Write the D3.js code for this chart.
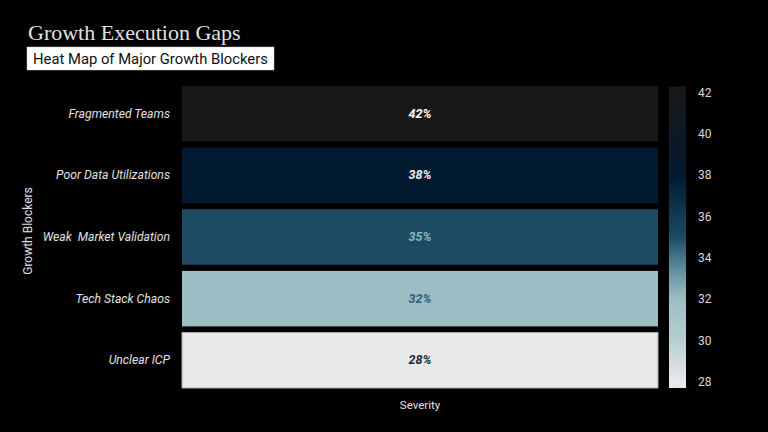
<!DOCTYPE html>
<html><head><meta charset="utf-8">
<script src="https://cdn.jsdelivr.net/npm/d3@7"></script>
<style>html,body{margin:0;padding:0;background:#000;}svg{display:block;}</style>
</head><body>
<svg id="chart" width="768" height="432"></svg>
<script>
const categories = ["Fragmented Teams", "Poor Data Utilizations", "Weak  Market Validation", "Tech Stack Chaos", "Unclear ICP"];
const severity = [42, 38, 35, 32, 28];
const colorbarTicks = [28, 30, 32, 34, 36, 38, 40, 42];
const colorStops = [28, 30, 32, 33.5, 35, 38, 42];
const colorValues = ["#e8e9ea", "#b7ced1", "#9dbec4", "#5d8b99", "#1c4b62", "#021a2f", "#181818"];
const labelColors = ["#ffffff", "#e8eef2", "#8db3bf", "#2f6179", "#1d2b3d"];

const svg = d3.select("#chart");
svg.append("rect").attr("width", 768).attr("height", 432).attr("fill", "#000");

// Title
svg.append("text").attr("x", 28).attr("y", 40)
  .attr("font-family", "'Liberation Serif', 'DejaVu Serif', serif")
  .attr("font-size", 22).attr("fill", "#e0e0e0").text("Growth Execution Gaps");
svg.append("rect").attr("x", 27).attr("y", 47).attr("width", 247).attr("height", 23)
  .attr("fill", "#ffffff").attr("stroke", "#ccc").attr("stroke-width", 0.5);
svg.append("text").attr("x", 33).attr("y", 64)
  .attr("font-family", "Roboto, 'Noto Sans', sans-serif")
  .attr("font-size", 14.8).attr("fill", "#111").text("Heat Map of Major Growth Blockers");

const x0 = 182, x1 = 658;
const y = d3.scaleBand().domain(categories).range([86, 388]).paddingInner(0.1).paddingOuter(0);
const color = d3.scaleLinear().domain(colorStops).range(colorValues).interpolate(d3.interpolateRgb);

const rows = categories.map((c, i) => ({c, v: severity[i], lc: labelColors[i]}));

svg.append("g").selectAll("rect").data(rows).join("rect")
  .attr("x", x0).attr("width", x1 - x0)
  .attr("y", d => y(d.c)).attr("height", y.bandwidth())
  .attr("fill", d => color(d.v))
  .attr("stroke", d => d.v < 30 ? "#a9a9a9" : "none").attr("stroke-width", 1);

svg.append("g").selectAll("text").data(rows).join("text")
  .attr("x", (x0 + x1) / 2).attr("y", d => y(d.c) + y.bandwidth() / 2 + 4)
  .attr("text-anchor", "middle")
  .attr("font-family", "Roboto, 'Noto Sans', sans-serif")
  .attr("font-style", "italic").attr("font-weight", "bold")
  .attr("font-size", 12.5).attr("fill", d => d.lc)
  .text(d => d.v + "%");

// y axis labels
const yAxis = d3.axisLeft(y).tickSize(0).tickPadding(12);
const gy = svg.append("g").attr("transform", `translate(${x0},0)`).call(yAxis);
gy.select(".domain").remove();
gy.selectAll("text").attr("font-family", "Roboto, 'Noto Sans', sans-serif")
  .attr("font-style", "italic").attr("font-size", 12.2).attr("fill", "#e0e0e0")
  .style("white-space", "pre");

svg.append("text").attr("transform", "translate(32,231) rotate(-90)")
  .attr("text-anchor", "middle").attr("font-family", "Roboto, 'Noto Sans', sans-serif")
  .attr("font-size", 12).attr("fill", "#e0e0e0").text("Growth Blockers");

svg.append("text").attr("x", 420).attr("y", 409).attr("text-anchor", "middle")
  .attr("font-family", "Roboto, 'Noto Sans', sans-serif")
  .attr("font-size", 11.5).attr("fill", "#e0e0e0").text("Severity");

// Colorbar
const cb = d3.scaleLinear().domain([28, 42]).range([381.5, 92.5]);
const defs = svg.append("defs");
const grad = defs.append("linearGradient").attr("id", "cbgrad")
  .attr("x1", 0).attr("y1", 1).attr("x2", 0).attr("y2", 0);
const barTop = 86.5, barBot = 388;
const vTop = cb.invert(barTop), vBot = cb.invert(barBot);
d3.range(0, 1.0001, 0.02).forEach(t => {
  const v = vBot + t * (vTop - vBot);
  grad.append("stop").attr("offset", t).attr("stop-color", color(Math.max(28, Math.min(42, v))));
});
svg.append("rect").attr("x", 669).attr("y", barTop).attr("width", 17).attr("height", barBot - barTop)
  .attr("fill", "url(#cbgrad)");
const cAxis = d3.axisRight(cb).tickValues(colorbarTicks).tickSize(0).tickPadding(12);
const gc = svg.append("g").attr("transform", "translate(686,0)").call(cAxis);
gc.select(".domain").remove();
gc.selectAll("text").attr("font-family", "Roboto, 'Noto Sans', sans-serif")
  .attr("font-size", 12).attr("fill", "#d8d8d8");
</script>
</body></html>
